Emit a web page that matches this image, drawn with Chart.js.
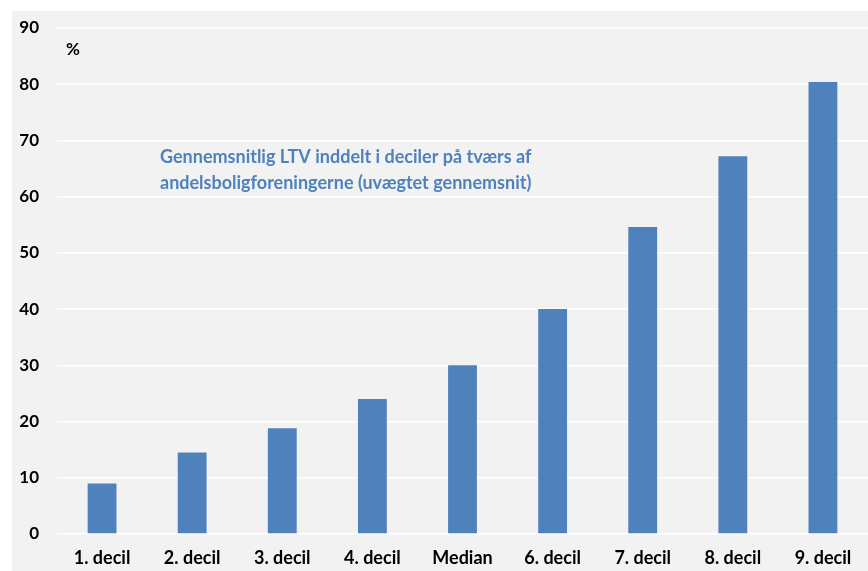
<!DOCTYPE html>
<html>
<head>
<meta charset="utf-8">
<script src="https://cdn.jsdelivr.net/npm/chart.js@4"></script>
<style>
  html, body { margin: 0; padding: 0; background: #ffffff; }
  #wrap { position: absolute; left: 12px; top: 11px; width: 856px; height: 560px; background: #f2f2f2; }
</style>
</head>
<body>
<div id="wrap"><canvas id="ltvChart" width="856" height="560"></canvas></div>
<script>
const labels = ["1. decil", "2. decil", "3. decil", "4. decil", "Median", "6. decil", "7. decil", "8. decil", "9. decil"];
const ltvValues = [9.0, 14.5, 18.8, 24.0, 30.0, 40.0, 54.6, 67.2, 80.4];
const yTicks = [0, 10, 20, 30, 40, 50, 60, 70, 80, 90];
const noteLines = ["Gennemsnitlig LTV inddelt i deciler på tværs af", "andelsboligforeningerne (uvægtet gennemsnit)"];
const unitLabel = "%";

const fontFamily = "Lato, 'Open Sans', sans-serif";

// texts drawn inside the plot (unit label and the blue note)
const notePlugin = {
  id: "notes",
  afterDraw(chart) {
    const c = chart.ctx;
    const area = chart.chartArea;
    c.save();
    c.textBaseline = "middle";
    c.textAlign = "left";
    c.font = "bold 17px " + fontFamily;
    c.fillStyle = "#000000";
    c.fillText(unitLabel, area.left + 9, 39);
    c.font = "bold 18px " + fontFamily;
    c.fillStyle = "#4f81bd";
    c.fillText(noteLines[0], 148, 146);
    c.fillText(noteLines[1], 148, 172);
    c.restore();
  }
};

const ctx = document.getElementById("ltvChart").getContext("2d");
const ltvChart = new Chart(ctx, {
  type: "bar",
  data: {
    labels: labels,
    datasets: [{
      data: ltvValues,
      backgroundColor: "#4f81bd",
      borderWidth: 0,
      barPercentage: 0.32,
      categoryPercentage: 1
    }]
  },
  options: {
    responsive: false,
    animation: false,
    layout: { padding: { top: 17, right: 0, bottom: 0, left: 0 } },
    plugins: {
      legend: { display: false },
      tooltip: { enabled: false }
    },
    scales: {
      x: {
        grid: { display: false, drawTicks: false },
        border: { display: false },
        ticks: {
          color: "#000000",
          padding: 13,
          font: { family: fontFamily, size: 18, weight: "bold" }
        },
        afterFit(scale) { scale.height = 37; }
      },
      y: {
        min: 0,
        max: 90,
        afterBuildTicks(scale) { scale.ticks = yTicks.map(v => ({ value: v })); },
        // invisible tick marks push the labels away from the plot
        grid: { color: "#ffffff", lineWidth: 1.5, drawTicks: true, tickLength: 18, tickColor: "rgba(0,0,0,0)" },
        border: { display: false },
        ticks: {
          color: "#000000",
          padding: 0,
          font: { family: fontFamily, size: 17, weight: "bold" }
        },
        afterFit(scale) { scale.width = 45; }
      }
    }
  },
  plugins: [notePlugin]
});
</script>
</body>
</html>
